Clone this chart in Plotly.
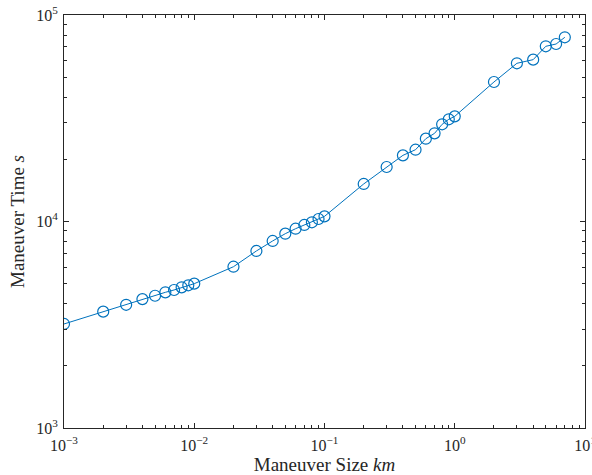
import plotly.graph_objects as go

# Maneuver size (km) and the corresponding maneuver time (s)
maneuver_size_km = [0.001, 0.002, 0.003, 0.004, 0.005, 0.006, 0.007, 0.008, 0.009,
                    0.01, 0.02, 0.03, 0.04, 0.05, 0.06, 0.07, 0.08, 0.09,
                    0.1, 0.2, 0.3, 0.4, 0.5, 0.6, 0.7, 0.8, 0.9,
                    1, 2, 3, 4, 5, 6, 7]
maneuver_time_s = [3190, 3660, 3950, 4210, 4370, 4540, 4660, 4800, 4910,
                   5000, 6040, 7200, 8050, 8730, 9230, 9620, 9910, 10280,
                   10590, 15200, 18360, 20910, 22270, 25180, 26730, 29560, 31260,
                   32300, 47380, 58350, 60780, 70530, 72360, 77980]

# Decade ticks and their power-of-ten labels
x_tickvals = [1e-3, 1e-2, 1e-1, 1e0, 1e1]
x_ticktext = ["10<sup>\u22123</sup>", "10<sup>\u22122</sup>", "10<sup>\u22121</sup>",
              "10<sup>0</sup>", "10<sup>1</sup>"]
y_tickvals = [1e3, 1e4, 1e5]
y_ticktext = ["10<sup>3</sup>", "10<sup>4</sup>", "10<sup>5</sup>"]

x_title = "Maneuver Size <i>km</i>"
y_title = "Maneuver Time <i>s</i>"

line_color = "#0072BD"
axis_color = "#262626"
font_family = "Liberation Serif"

fig = go.Figure()
fig.add_trace(go.Scatter(
    x=maneuver_size_km,
    y=maneuver_time_s,
    mode="lines+markers",
    line=dict(color=line_color, width=1),
    marker=dict(symbol="circle-open", size=11, color=line_color,
                line=dict(color=line_color, width=1.2)),
    showlegend=False,
))

axis_common = dict(
    type="log",
    showline=True,
    linecolor=axis_color,
    linewidth=1,
    mirror="ticks",
    ticks="inside",
    ticklen=5,
    tickwidth=1,
    tickcolor=axis_color,
    showgrid=False,
    zeroline=False,
    tickmode="array",
    ticklabeloverflow="allow",
    tickfont=dict(family=font_family, size=16, color=axis_color),
    minor=dict(ticks="inside", ticklen=3, tickwidth=1, tickcolor=axis_color,
               dtick="D1", showgrid=False),
    automargin=False,
)

fig.update_xaxes(
    **axis_common,
    range=[-3, 1],
    tickvals=x_tickvals,
    ticktext=x_ticktext,
    ticklabelstandoff=3,
    title=dict(text=x_title, font=dict(family=font_family, size=19, color=axis_color),
               standoff=0),
)
fig.update_yaxes(
    **axis_common,
    range=[3, 5],
    tickvals=y_tickvals,
    ticktext=y_ticktext,
    ticklabelstandoff=2,
    title=dict(text=y_title, font=dict(family=font_family, size=19, color=axis_color),
               standoff=6),
)

fig.update_layout(
    width=592,
    height=475,
    margin=dict(l=64, r=7, t=15, b=47),
    paper_bgcolor="white",
    plot_bgcolor="white",
)

fig.write_html("out.html")
